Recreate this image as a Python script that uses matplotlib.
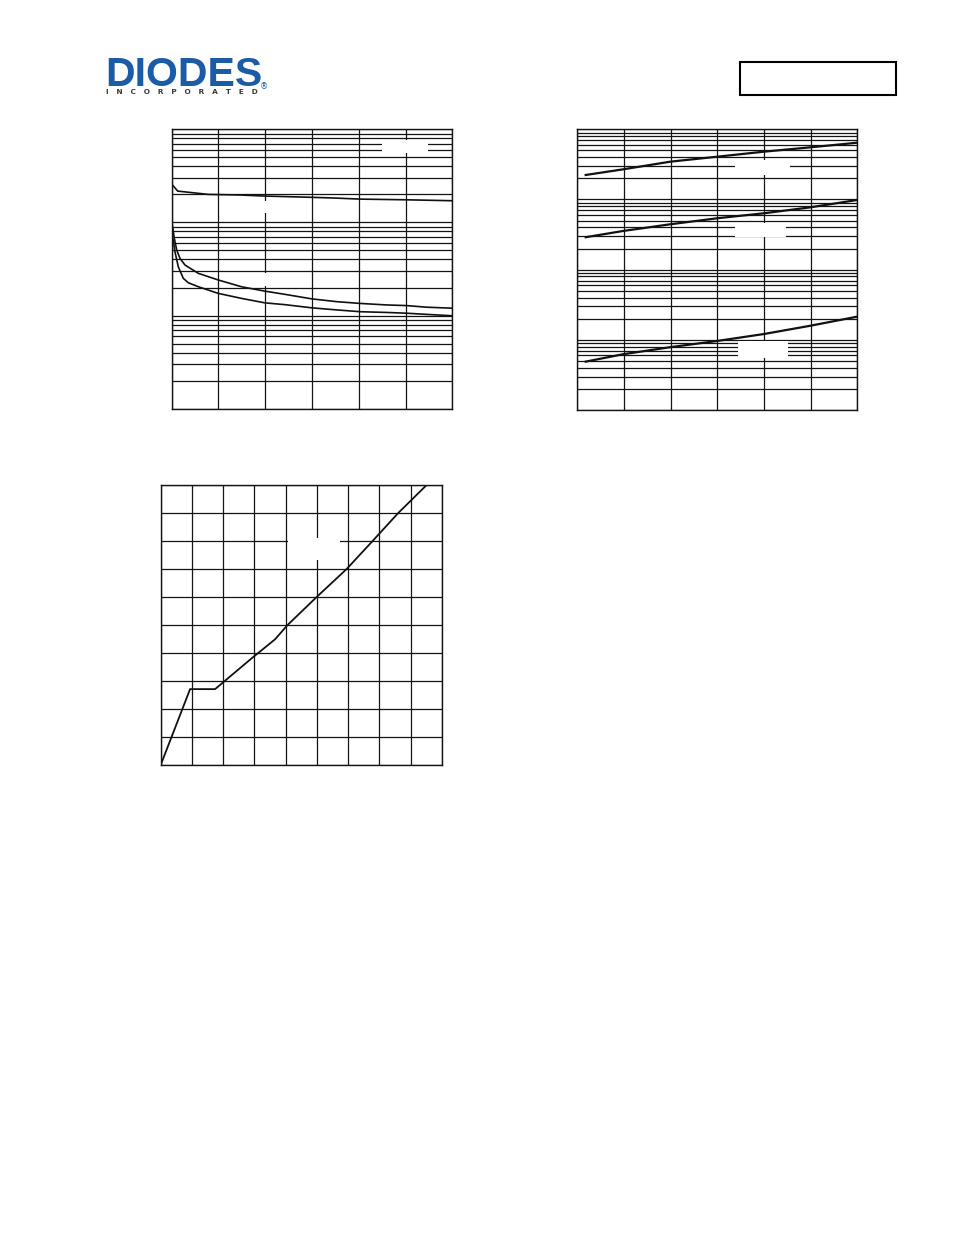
import numpy as np
import matplotlib
matplotlib.use('Agg')
import matplotlib.pyplot as plt
from matplotlib.patches import Rectangle
from matplotlib.ticker import LogLocator, MultipleLocator, NullFormatter

# Page size in pixels
W, H = 954, 1235

# Chart 1 (top left, log y): one upper curve and two lower curves
c1_top_x = [0.0, 0.128, 0.39, 0.78, 1.46, 1.99, 3.0, 3.46, 4.03, 5.02, 6.0]
c1_top_y = [0.258, 0.217, 0.210, 0.200, 0.197, 0.192, 0.186, 0.183, 0.178, 0.175, 0.171]
c1_a_x = [0.013, 0.056, 0.107, 0.177, 0.284, 0.569, 0.996, 1.49, 1.99, 2.42, 3.0, 3.53, 4.03, 4.60, 5.02, 5.45, 6.0]
c1_a_y = [0.0938, 0.0675, 0.0506, 0.0411, 0.0349, 0.0284, 0.0241, 0.0204, 0.0183, 0.0169,
          0.0151, 0.0141, 0.0135, 0.0130, 0.0128, 0.0123, 0.0120]
c1_b_x = [0.013, 0.070, 0.141, 0.248, 0.355, 0.569, 0.996, 1.49, 1.99, 2.42, 3.0, 3.53, 4.03, 4.60, 5.02, 5.45, 6.0]
c1_b_y = [0.0732, 0.0484, 0.0334, 0.0251, 0.0225, 0.0204, 0.0173, 0.0153, 0.0137, 0.0131,
          0.0121, 0.0115, 0.0110, 0.0108, 0.0106, 0.0103, 0.00995]

# Chart 2 (top right, log y): three rising curves
c2_x = [0.18, 0.985, 1.99, 3.0, 4.0, 5.0, 6.0]
c2_y1 = [0.2234, 0.269, 0.3455, 0.407, 0.480, 0.554, 0.644]
c2_y2 = [0.0290, 0.0356, 0.0443, 0.0540, 0.0636, 0.0774, 0.0984]
c2_y3 = [0.000489, 0.000624, 0.000785, 0.000964, 0.00121, 0.00159, 0.00214]

# Chart 3 (bottom left, linear)
c3_x = [0, 0.94, 1.74, 2.91, 3.66, 4.06, 4.99, 5.95, 6.78, 7.6, 8.51]
c3_y = [0, 2.71, 2.71, 3.81, 4.49, 5.0, 6.0, 7.0, 8.0, 9.0, 10.0]

fig = plt.figure(figsize=(W / 100, H / 100), dpi=100)
fig.patch.set_facecolor('white')


def px_axes(x0, y0, x1, y1):
    return fig.add_axes([x0 / W, 1 - y1 / H, (x1 - x0) / W, (y1 - y0) / H])


def blank_box(ax, x0, y0, x1, y1):
    # white area where the curve label sits
    ax.add_patch(Rectangle((x0 / W, 1 - y1 / H), (x1 - x0) / W, (y1 - y0) / H,
                           transform=fig.transFigure, fc='white', ec='none', zorder=1.8))


def style_axes(ax):
    ax.tick_params(which='both', length=0, labelbottom=False, labelleft=False)
    ax.grid(True, which='both', color='#141414', lw=0.9)
    for s in ax.spines.values():
        s.set_color('#141414')
        s.set_linewidth(1.0)


def log_grid(ax):
    ax.set_yscale('log')
    ax.yaxis.set_major_locator(LogLocator(base=10, numticks=20))
    ax.yaxis.set_minor_locator(LogLocator(base=10, subs=np.arange(2, 10), numticks=20))
    ax.yaxis.set_minor_formatter(NullFormatter())
    ax.xaxis.set_major_locator(MultipleLocator(1))


# Chart 1
ax1 = px_axes(171.7, 129.3, 452.3, 408.7)
log_grid(ax1)
ax1.set_xlim(0, 6)
ax1.set_ylim(1e-3, 1)
style_axes(ax1)
ax1.plot(c1_top_x, c1_top_y, color='#111111', lw=1.2, zorder=2)
ax1.plot(c1_a_x, c1_a_y, color='#111111', lw=1.2, zorder=2)
ax1.plot(c1_b_x, c1_b_y, color='#111111', lw=1.2, zorder=2)
blank_box(ax1, 382, 140, 428.3, 153)
blank_box(ax1, 258, 201, 272, 213)
blank_box(ax1, 258, 273.5, 272, 286.5)

# Chart 2
ax2 = px_axes(577.3, 129.3, 857.3, 410)
log_grid(ax2)
ax2.set_xlim(0, 6)
ax2.set_ylim(1e-4, 1)
style_axes(ax2)
for yy in (c2_y1, c2_y2, c2_y3):
    ax2.plot(c2_x, yy, color='#111111', lw=1.6, zorder=2)
blank_box(ax2, 735, 160, 790, 175)
blank_box(ax2, 735, 223, 786, 237)
blank_box(ax2, 737.7, 340.7, 787.7, 358.3)

# Chart 3
ax3 = px_axes(160.7, 485, 442, 765)
ax3.set_xlim(0, 9)
ax3.set_ylim(0, 10)
ax3.xaxis.set_major_locator(MultipleLocator(1))
ax3.yaxis.set_major_locator(MultipleLocator(1))
style_axes(ax3)
ax3.plot(c3_x, c3_y, color='#111111', lw=1.3, zorder=2)
blank_box(ax3, 288, 538, 340, 560)

# Header: logo and part-number box
fig.text(105 / W, 1 - 86 / H, 'DIODES', family='Liberation Sans', weight='bold',
         fontsize=29.5, color='#1c5ba6', ha='left', va='baseline')
fig.text(106 / W, 1 - 92.5 / H, '   '.join('INCORPORATED'), family='DejaVu Sans',
         weight='bold', fontsize=5.3, color='#3a3a3a', ha='left', va='center')
fig.text(264 / W, 1 - 87 / H, '\u00ae', fontsize=6, color='#1c5ba6', ha='center', va='center')
fig.patches.append(Rectangle((740 / W, 1 - 95 / H), 156 / W, 33 / H, transform=fig.transFigure,
                             fc='none', ec='black', lw=1.5, figure=fig))

fig.savefig('out.png', dpi=100, facecolor='white')
